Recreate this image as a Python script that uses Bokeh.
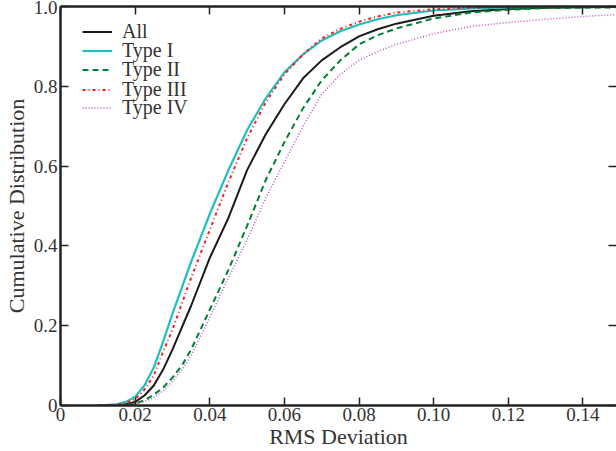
from bokeh.plotting import figure
from bokeh.models import LinearAxis, FixedTicker, Legend, LegendItem, Range1d
from bokeh.embed import file_html
from bokeh.resources import INLINE

# RMS deviation sample points
x_vals = [0.010, 0.015, 0.0175, 0.020, 0.0225, 0.025, 0.0275, 0.030, 0.0325,
          0.035, 0.040, 0.045, 0.050, 0.055, 0.060, 0.065, 0.070, 0.075, 0.080,
          0.085, 0.090, 0.100, 0.110, 0.120, 0.130, 0.140, 0.150]

cdf_all = [0.0, 0.001, 0.003, 0.009, 0.025, 0.05, 0.09, 0.14, 0.195,
           0.25, 0.37, 0.47, 0.59, 0.68, 0.755, 0.82, 0.865, 0.898, 0.925,
           0.943, 0.957, 0.977, 0.988, 0.994, 0.997, 0.998, 0.999]
cdf_type1 = [0.0, 0.003, 0.009, 0.022, 0.05, 0.095, 0.16, 0.23, 0.295,
             0.36, 0.48, 0.59, 0.69, 0.77, 0.835, 0.88, 0.915, 0.938, 0.955,
             0.968, 0.978, 0.99, 0.995, 0.998, 0.999, 1.0, 1.0]
cdf_type2 = [0.0, 0.0, 0.001, 0.005, 0.013, 0.027, 0.045, 0.07, 0.10,
             0.14, 0.24, 0.34, 0.45, 0.565, 0.66, 0.745, 0.815, 0.865, 0.905,
             0.928, 0.945, 0.97, 0.985, 0.992, 0.996, 0.997, 0.998]
cdf_type3 = [0.0, 0.002, 0.006, 0.016, 0.04, 0.075, 0.135, 0.19, 0.255,
             0.32, 0.44, 0.56, 0.67, 0.76, 0.83, 0.88, 0.92, 0.944, 0.962,
             0.975, 0.985, 0.993, 0.997, 0.999, 1.0, 1.0, 1.0]
cdf_type4 = [0.0, 0.0, 0.001, 0.004, 0.01, 0.02, 0.037, 0.06, 0.09,
             0.125, 0.22, 0.32, 0.415, 0.52, 0.61, 0.70, 0.78, 0.83, 0.865,
             0.887, 0.905, 0.932, 0.95, 0.96, 0.968, 0.975, 0.98]

series_labels = ["All", "Type I", "Type II", "Type III", "Type IV"]

x_ticks = [0, 0.02, 0.04, 0.06, 0.08, 0.10, 0.12, 0.14]
x_tick_labels = ["0", "0.02", "0.04", "0.06", "0.08", "0.10", "0.12", "0.14"]
y_ticks = [0, 0.2, 0.4, 0.6, 0.8, 1.0]
y_tick_labels = ["0", "0.2", "0.4", "0.6", "0.8", "1.0"]

FONT = "Liberation Serif"

p = figure(width=616, height=451, output_backend="svg", toolbar_location=None,
           x_range=Range1d(0, 0.149), y_range=Range1d(0, 1.0),
           min_border_left=60, min_border_right=0, min_border_top=6,
           min_border_bottom=45, x_axis_location=None, y_axis_location=None)
p.outline_line_color = None
p.grid.visible = False
p.background_fill_color = "white"
p.border_fill_color = "white"


def style_axis(ax, ticks, labels, show_labels=True, show_line=True):
    ax.ticker = FixedTicker(ticks=ticks)
    ax.major_label_overrides = {t: l for t, l in zip(ticks, labels)}
    ax.major_tick_in = 8
    ax.major_tick_out = 0
    ax.minor_tick_in = 0
    ax.minor_tick_out = 0
    ax.major_tick_line_width = 1.5
    ax.major_tick_line_color = "#222222"
    ax.axis_line_width = 2.5 if show_line else 0
    ax.axis_line_color = "#222222" if show_line else None
    ax.major_label_text_font = FONT
    ax.major_label_text_font_size = "19px"
    ax.major_label_text_color = "#333333"
    ax.axis_label_text_font = FONT
    ax.axis_label_text_font_style = "normal"
    ax.axis_label_text_font_size = "22px"
    ax.axis_label_text_color = "#333333"
    if not show_labels:
        ax.major_label_text_font_size = "0px"
        ax.major_label_standoff = 0


xb = LinearAxis(axis_label="RMS Deviation")
style_axis(xb, x_ticks, x_tick_labels)
xb.major_label_standoff = 2
xb.axis_label_standoff = 0
p.add_layout(xb, "below")

yl = LinearAxis(axis_label="Cumulative Distribution")
style_axis(yl, y_ticks, y_tick_labels)
yl.major_label_standoff = 3
yl.axis_label_standoff = 2
p.add_layout(yl, "left")

xt = LinearAxis()
style_axis(xt, x_ticks, x_tick_labels, show_labels=False)
p.add_layout(xt, "above")

yr = LinearAxis()
style_axis(yr, y_ticks, y_tick_labels, show_labels=False, show_line=False)
p.add_layout(yr, "right")

r_all = p.line(x_vals, cdf_all, line_color="#1a1a1a", line_width=2)
r1 = p.line(x_vals, cdf_type1, line_color="#1fbfbf", line_width=2.2)
r2 = p.line(x_vals, cdf_type2, line_color="#008033", line_width=2,
            line_dash="6 4")
r3 = p.line(x_vals, cdf_type3, line_color="#ff1a1a", line_width=2,
            line_dash="3 3 1 3")
r4 = p.line(x_vals, cdf_type4, line_color="#c050c0", line_width=1.5,
            line_dash="1 2")

# one single-row legend per entry so the row pitch matches the reference
renderers = [r_all, r1, r2, r3, r4]
legend_bottoms = [362, 343, 324, 304, 286]
for lab, rend, yb in zip(series_labels, renderers, legend_bottoms):
    lg = Legend(items=[LegendItem(label=lab, renderers=[rend])],
                location=(22, yb))
    lg.background_fill_alpha = 0
    lg.border_line_color = None
    lg.label_text_font = FONT
    lg.label_text_font_size = "20px"
    lg.label_text_color = "#333333"
    lg.glyph_width = 30
    lg.glyph_height = 19
    lg.label_height = 19
    lg.label_standoff = 10
    lg.margin = 0
    lg.padding = 0
    p.add_layout(lg, "center")

open("out.html", "w").write(file_html(p, INLINE))
